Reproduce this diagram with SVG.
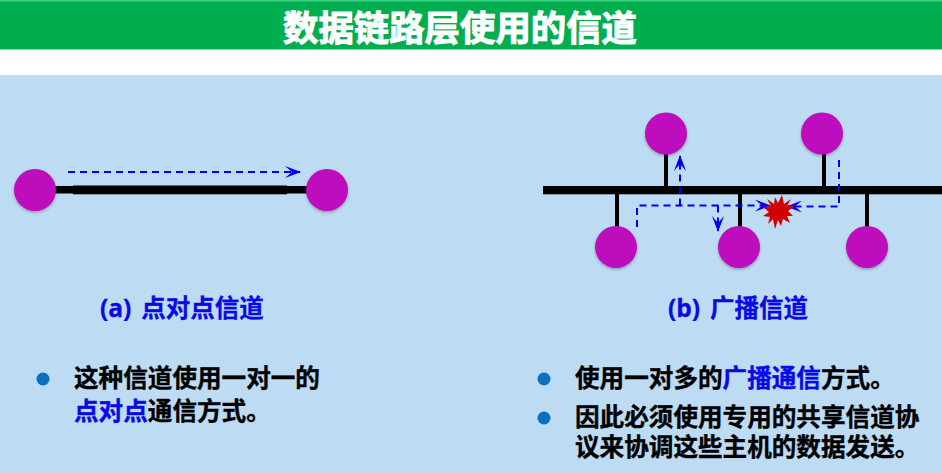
<svg xmlns="http://www.w3.org/2000/svg" width="942" height="473" viewBox="0 0 942 473">
<defs>
<style>
text{font-family:"Noto Sans CJK SC","Liberation Sans",sans-serif;font-weight:700}
.node{fill:#BE08BC;filter:url(#sh)}
.bar{fill:#000}
.dash{fill:none;stroke:#0000F0;stroke-width:2;stroke-dasharray:7 5}
.cap{font-family:"Open Sans","Noto Sans CJK SC",sans-serif;font-size:24.500px;word-spacing:3.500px;fill:#0A0AE6;stroke:#0A0AE6;stroke-width:.3}
.body{font-size:24.600px;fill:#000;stroke:#000;stroke-width:.4}
.hl{fill:#0A0AE6;stroke:#0A0AE6}
.dot{fill:#0B70C0}
</style>
<filter id="sh" x="-20%" y="-20%" width="140%" height="150%"><feDropShadow dx="0" dy="1.5" stdDeviation="1.5" flood-color="#000" flood-opacity=".3"/></filter>
<marker id="ah" viewBox="0 0 16 12" refX="15" refY="6" markerWidth="16" markerHeight="12" markerUnits="userSpaceOnUse" orient="auto"><path d="M0 0L16 6L0 12L7 6Z" fill="#0000F0"/></marker>
</defs>
<rect width="942" height="473" fill="#fff"/>
<rect id="title-bar" y="0" width="942" height="49.500" fill="#00AE50"/>
<rect y="0" width="942" height="1.500" fill="#3FD07F"/>
<rect id="panel" y="75" width="942" height="398" fill="#BDDCF3"/>
<text x="460" y="41" text-anchor="middle" font-size="35.400" fill="#fff" stroke="#fff" stroke-width="1">数据链路层使用的信道</text>
<g id="wires">
<rect class="bar" x="50" y="186" width="260" height="7.500"/>
<rect class="bar" x="73" y="185.500" width="214" height="8.800"/>
<rect class="bar" x="543" y="186" width="399" height="8.300"/>
<rect class="bar" x="664" y="152" width="4" height="36"/>
<rect class="bar" x="822" y="152" width="4" height="36"/>
<rect class="bar" x="615" y="192" width="4" height="36"/>
<rect class="bar" x="738" y="192" width="4" height="36"/>
<rect class="bar" x="865" y="192" width="4" height="36"/>
</g>
<g id="connectors">
<path class="dash" d="M68 172H300" marker-end="url(#ah)"/>
<path class="dash" d="M637 227V205.500H770" marker-end="url(#ah)"/>
<path class="dash" d="M680 205.500V156" marker-end="url(#ah)"/>
<path class="dash" d="M718 205.500V231" marker-end="url(#ah)"/>
<path class="dash" d="M839 160V206.500H787" marker-end="url(#ah)"/>
</g>
<g id="collision"><polygon fill="#D00000" points="782,195 784,204 791,199 787,206 795,206 788,211 793,216 787,216 790,223 783,219 781,226 778,220 775,229 773,219 768,224 770,217 763,216 769,212 763,207 771,206 767,199 774,204 775,197 778,203"/></g>
<g id="n1"><circle class="node" cx="35" cy="190" r="21"/></g>
<g id="n2"><circle class="node" cx="327" cy="190" r="21"/></g>
<g id="n3"><circle class="node" cx="666" cy="133.500" r="21"/></g>
<g id="n4"><circle class="node" cx="822" cy="133.500" r="21"/></g>
<g id="n5"><circle class="node" cx="616" cy="247" r="21"/></g>
<g id="n6"><circle class="node" cx="739" cy="247" r="21"/></g>
<g id="n7"><circle class="node" cx="867" cy="247" r="21"/></g>
<text class="cap" x="100" y="317">(a) 点对点信道</text>
<text class="cap" x="668" y="317">(b) 广播信道</text>
<circle class="dot" cx="43" cy="379" r="6.500"/>
<text class="body" x="74" y="387">这种信道使用一对一的</text>
<text class="body" x="74" y="420"><tspan class="hl">点对点</tspan>通信方式。</text>
<circle class="dot" cx="544" cy="379" r="6.500"/>
<text class="body" x="575" y="387">使用一对多的<tspan class="hl">广播通信</tspan>方式。</text>
<circle class="dot" cx="544" cy="418" r="6.500"/>
<text class="body" x="575" y="426">因此必须使用专用的共享信道协</text>
<text class="body" x="575" y="456">议来协调这些主机的数据发送。</text>
</svg>
